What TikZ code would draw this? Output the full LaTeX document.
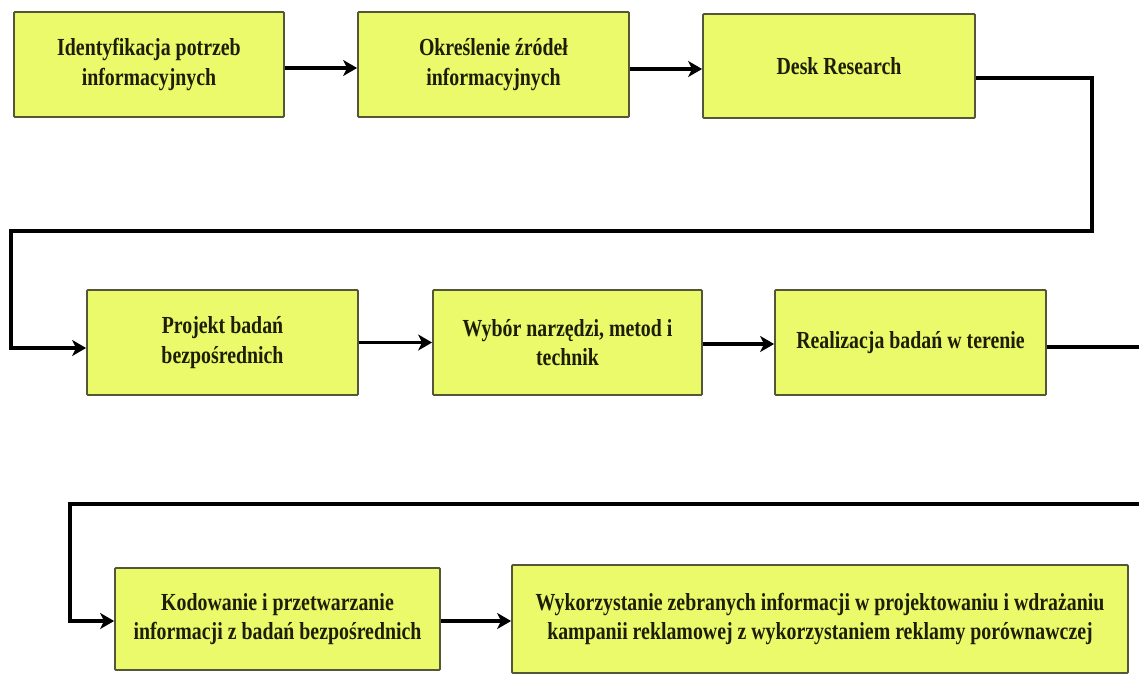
\documentclass[tikz,border=0pt]{standalone}
\usepackage{fontspec}
\setmainfont{Liberation Serif}[FakeStretch=0.81]
\usetikzlibrary{arrows.meta,calc}
\definecolor{boxfill}{RGB}{234,250,106}
\definecolor{boxline}{RGB}{85,85,55}
\definecolor{txt}{RGB}{30,30,5}
\tikzset{
  stepbox/.style={draw=boxline, fill=boxfill, line width=1.8pt, rounded corners=1pt,
    align=center, inner sep=0pt, font=\fontsize{24.5}{29.5}\selectfont\bfseries, text=txt},
  conn/.style={line width=3.8pt, black, line join=miter},
  arr/.style={conn, -{Stealth[length=14pt,width=16pt,inset=4pt]}}
}
\begin{document}
\begin{tikzpicture}[x=1pt,y=-1pt]
\useasboundingbox (0,0) rectangle (1139,675);
\fill[white] (0,0) rectangle (1139,675);

\node[stepbox, minimum width=270pt, minimum height=105pt] (b1) at (149,64.5) {Identyfikacja potrzeb\\informacyjnych};
\node[stepbox, minimum width=271pt, minimum height=105pt] (b2) at (493.5,64.5) {Określenie źródeł\\informacyjnych};
\node[stepbox, minimum width=272pt, minimum height=104pt] (b3) at (839,66) {Desk Research};

\node[stepbox, minimum width=271pt, minimum height=105pt] (b4) at (222.5,342.5) {Projekt badań\\bezpośrednich};
\node[stepbox, minimum width=269pt, minimum height=105pt] (b5) at (567.5,342.5) {Wybór narzędzi, metod i\\technik};
\node[stepbox, minimum width=271pt, minimum height=105pt] (b6) at (910.5,342.5) {Realizacja badań w terenie};

\node[stepbox, minimum width=325pt, minimum height=102pt] (b7) at (277.5,619) {Kodowanie i przetwarzanie\\informacji z badań bezpośrednich};
\node[stepbox, minimum width=616pt, minimum height=108pt] (b8) at (820,619) {Wykorzystanie zebranych informacji w projektowaniu i wdrażaniu\\kampanii reklamowej z wykorzystaniem reklamy porównawczej};

\coordinate (c1) at (1092,78);
\coordinate (c2) at (1092,231);
\coordinate (c3) at (11,231);
\coordinate (c4) at (11,348);
\coordinate (c5) at (1139,347);
\coordinate (c6) at (1139,504);
\coordinate (c7) at (70,504);
\coordinate (c8) at (70,621);

\draw[arr] ([yshift=-3.5pt]b1.east) -- ([yshift=-3.5pt]b1.east -| b2.west);
\draw[arr] ([yshift=-4.5pt]b2.east) -- ([yshift=-4.5pt]b2.east -| b3.west);
\draw[arr] ([yshift=-12pt]b3.east) -- (c1) -- (c2) -- (c3) -- (c4) -- (c4 -| b4.west);
\draw[arr] (b4.east) -- (b5.west);
\draw[arr] ([yshift=-1.5pt]b5.east) -- ([yshift=-1.5pt]b5.east -| b6.west);
\draw[conn] ([yshift=-4.5pt]b6.east) -- (c5);
\draw[arr] (c6) -- (c7) -- (c8) -- (c8 -| b7.west);
\draw[arr] ([yshift=-2pt]b7.east) -- ([yshift=-2pt]b7.east -| b8.west);
\end{tikzpicture}
\end{document}
